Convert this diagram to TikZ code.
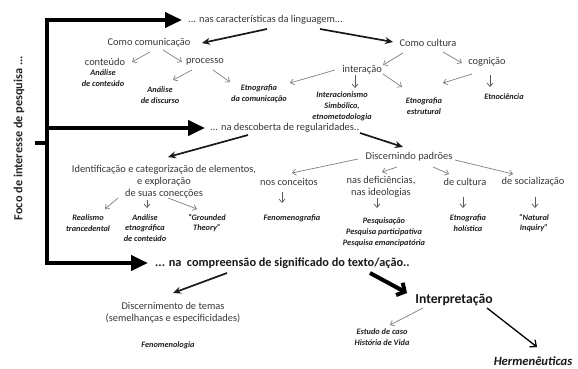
\documentclass[tikz,border=0pt]{standalone}
\usepackage{fontspec}
\setmainfont{Carlito}
\usetikzlibrary{arrows.meta}
\tikzset{
 lbl/.style={font=\fontsize{10.4}{11.8}\selectfont, text=black!78, inner sep=0pt, align=center},
 sml/.style={font=\bfseries\itshape\fontsize{8.3}{10.8}\selectfont, text=black!88, inner sep=0pt, align=center},
 bigline/.style={line width=4pt, black},
 bigarrow/.style={bigline, -{Triangle[length=17pt,width=15pt]}},
 barrow/.style={line width=1.7pt, black!90, -{Stealth[length=8pt,width=7pt]}},
 garrow/.style={line width=0.7pt, black!50, -{Straight Barb[length=3.5pt,width=6pt]}},
 darrow/.style={line width=0.7pt, black!65, -{Straight Barb[length=3.5pt,width=6pt]}},
}
\begin{document}
\begin{tikzpicture}[x=1pt,y=-1pt]
\useasboundingbox[fill=white] (0,0) rectangle (578,369);

% left frame
\node[rotate=90, font=\bfseries\fontsize{12.3}{14}\selectfont, text=black!85, inner sep=0pt] (foco) at (19,138) {Foco de interesse de pesquisa ...};
\coordinate (ftop) at (47,20);
\coordinate (fmid) at (47,128);
\coordinate (fbot) at (47,263);
\coordinate (fstub) at (35,143);
\coordinate (fstubend) at (47,143);

% level 0 labels
\node[lbl, anchor=west] (lang) at (188,20) {... nas características da linguagem...};
\node[lbl, anchor=west] (regul) at (210,128) {... na descoberta de regularidades..};
\node[font=\bfseries\fontsize{12.3}{14}\selectfont, text=black!90, inner sep=0pt, anchor=west] (compr) at (155,263) {... na\ \ compreensão de significado do texto/ação..};

\draw[bigline] (fstub) -- (fstubend);
\draw[bigarrow] (fbot) -- (ftop) -- ([xshift=-6pt]lang.west);
\draw[bigarrow] (ftop) -- (fbot) -- ([xshift=-7pt]compr.west);
\draw[bigarrow] (fmid) -- ([xshift=-5pt]regul.west);

% section 1
\node[lbl] (cc) at (149,43) {Como comunicação};
\node[lbl] (cu) at (428,43) {Como cultura};
\node[lbl] (cont) at (105,62) {conteúdo};
\node[sml] (acont) at (103,78) {Análise\\de conteúdo};
\node[lbl] (proc) at (205,62) {processo};
\node[sml] (adisc) at (160,95) {Análise\\de discurso};
\node[sml] (etcom) at (259,94) {Etnografia\\da comunicação};
\node[lbl] (inter) at (362,70) {interação};
\node[lbl] (cogn) at (487,62) {cognição};
\node[sml] (interac) at (342,106) {Interacionismo\\Simbólico,\\etnometodologia};
\node[sml] (etstr) at (424,106) {Etnografia\\estrutural};
\node[sml] (etnoc) at (504,97) {Etnociência};

\draw[barrow] ([shift={(79,9)}]lang.west) -- ([shift={(53,0)}]cc.center);
\draw[barrow] ([shift={(132,9)}]lang.west) -- ([shift={(-35,-1)}]cu.center);
\draw[garrow] ([shift={(1,9)}]cc.center) -- ([shift={(27,0)}]cont.center);
\draw[garrow] ([shift={(14,7)}]cc.center) -- ([shift={(-23,0)}]proc.center);
\draw[garrow] ([shift={(-13,8)}]proc.center) -- ([shift={(13,-15)}]adisc.center);
\draw[garrow] ([shift={(8,8)}]proc.center) -- ([shift={(-29,-12)}]etcom.center);
\draw[garrow] ([shift={(-25,10)}]cu.center) -- ([shift={(21,-5)}]inter.center);
\draw[garrow] ([shift={(15,9)}]cu.center) -- ([shift={(-25,1)}]cogn.center);
\draw[garrow] ([shift={(-27,0)}]inter.center) -- ([shift={(31,-11)}]etcom.center);
\draw[darrow] ([shift={(-7,5)}]inter.center) -- ([shift={(13,-18)}]interac.center);
\draw[garrow] ([shift={(21,4)}]inter.center) -- ([shift={(-22,-19)}]etstr.center);
\draw[garrow] ([shift={(-15,12)}]cogn.center) -- ([shift={(19,-23)}]etstr.center);
\draw[darrow] ([shift={(3,13)}]cogn.center) -- ([shift={(-14,-10)}]etnoc.center);

% section 2
\node[lbl] (ident) at (164,182) {Identificação e categorização de elementos,\\e exploração\\de suas conecções};
\node[sml] (realis) at (88,223) {Realismo\\trancedental};
\node[sml] (aetno) at (145,228) {Análise\\etnográfica\\de conteúdo};
\node[sml] (ground) at (207,223) {“Grounded\\Theory”};
\node[lbl] (disc) at (409,157) {Discernindo padrões};
\node[lbl] (conc) at (289,182) {nos conceitos};
\node[sml] (fenog) at (292,218) {Fenomenografia};
\node[lbl] (defic) at (381,187) {nas deficiências,\\nas ideologias};
\node[sml] (pesq) at (384,232) {Pesquisação\\Pesquisa participativa\\Pesquisa emancipatória};
\node[lbl] (cult) at (465,182) {de cultura};
\node[sml] (holis) at (468,223) {Etnografia\\holística};
\node[lbl] (social) at (533,182) {de socialização};
\node[sml] (natur) at (534,223) {“Natural\\Inquiry”};

\draw[barrow] ([shift={(38,7)}]regul.west) -- ([shift={(4,-25)}]ident.center);
\draw[barrow] ([shift={(150,5)}]regul.west) -- ([shift={(-6,-10)}]disc.center);
\draw[garrow] ([shift={(-46,16)}]ident.center) -- ([shift={(17,-14)}]realis.center);
\draw[darrow] ([shift={(-17,18)}]ident.center) -- ([shift={(2,-20)}]aetno.center);
\draw[garrow] ([shift={(4,16)}]ident.center) -- ([shift={(-10,-14)}]ground.center);
\draw[garrow] ([shift={(-51,2)}]disc.center) -- ([shift={(3,-9)}]conc.center);
\draw[darrow] ([shift={(-7,10)}]conc.center) -- ([shift={(-10,-15)}]fenog.center);
\draw[garrow] ([shift={(-12,10)}]disc.center) -- ([shift={(1,-15)}]defic.center);
\draw[darrow] ([shift={(-4,11)}]defic.center) -- ([shift={(-7,-24)}]pesq.center);
\draw[garrow] ([shift={(24,10)}]disc.center) -- ([shift={(-16,-8)}]cult.center);
\draw[darrow] ([shift={(-2,15)}]cult.center) -- ([shift={(-5,-15)}]holis.center);
\draw[garrow] ([shift={(46,3)}]disc.center) -- ([shift={(-20,-8)}]social.center);
\draw[darrow] ([shift={(2,15)}]social.center) -- ([shift={(1,-15)}]natur.center);

% section 3
\node[lbl] (discern) at (173,313) {Discernimento de temas\\(semelhanças e especificidades)};
\node[sml] (fenol) at (168,345) {Fenomenologia};
\node[font=\bfseries\fontsize{13.7}{15}\selectfont, text=black!90, inner sep=0pt] (interp) at (454,300) {Interpretação};
\node[sml] (estudo) at (382,337) {Estudo de caso\\História de Vida};
\node[font=\bfseries\itshape\fontsize{12.6}{15}\selectfont, text=black!90, inner sep=0pt] (herm) at (533,361) {Hermenêuticas};

\draw[barrow] ([shift={(72,10)}]compr.west) -- ([shift={(0,-20)}]discern.center);
\draw[line width=4pt, black, -{Straight Barb[length=6pt,width=14pt]}] ([shift={(215,10)}]compr.west) -- ([shift={(-47,-7)}]interp.center);
\draw[garrow] ([shift={(-31,8)}]interp.center) -- ([shift={(8,-12)}]estudo.center);
\draw[line width=1.3pt, black, -{Straight Barb[length=5pt,width=9pt]}] ([shift={(33,8)}]interp.center) -- ([shift={(4,-14)}]herm.center);
\end{tikzpicture}
\end{document}
